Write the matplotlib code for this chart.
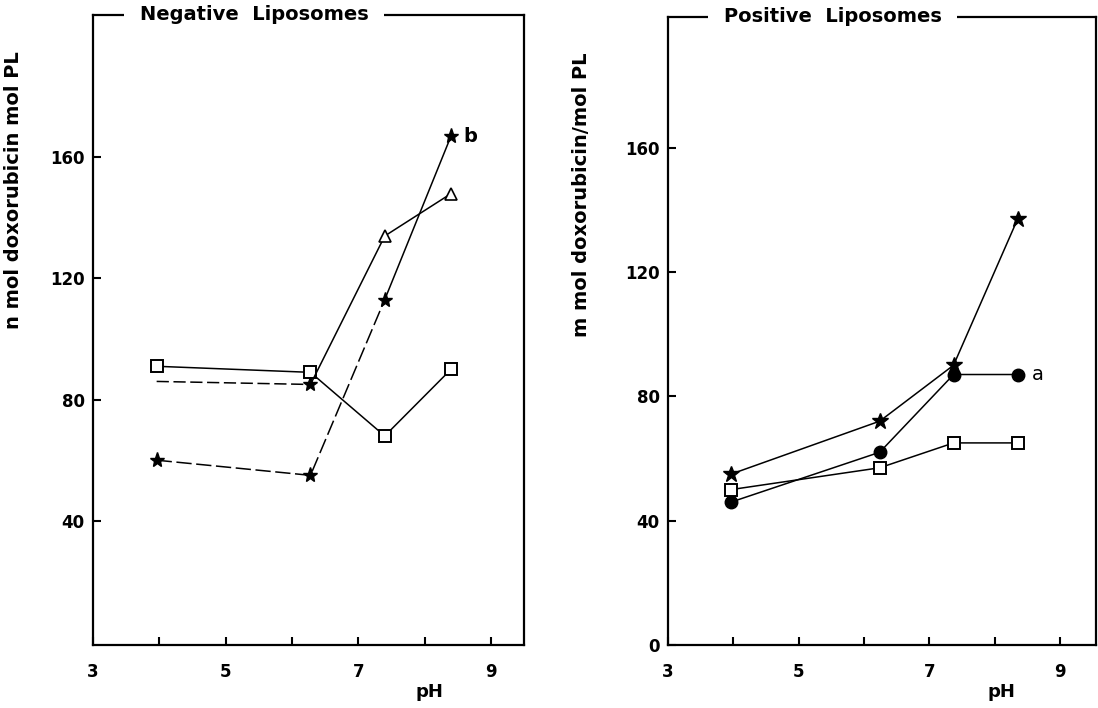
"""
Doxorubicin loading of negative and positive liposomes as a function of pH.
"""

import matplotlib
matplotlib.use("Agg")
import matplotlib.pyplot as plt

# --- data ---
ph_neg = [3.96, 6.28, 7.40, 8.40]
neg_square = [91, 89, 68, 90]
neg_triangle = [86, 85, 134, 148]
neg_star = [60, 55, 113, 167]

ph_pos = [3.97, 6.24, 7.37, 8.35]
pos_star = [55, 72, 90, 137]
pos_circle = [46, 62, 87, 87]
pos_square = [50, 57, 65, 65]

xticks_major = [3, 5, 7, 9]
xticks_minor = [4, 6, 8]
yticks_neg = [40, 80, 120, 160]
yticks_pos = [0, 40, 80, 120, 160]

plt.rcParams["font.family"] = ["DejaVu Sans"]
plt.rcParams["font.weight"] = "bold"

fig = plt.figure(figsize=(10.98, 7.08), dpi=100)
ax1 = fig.add_axes([0.0847, 0.089, 0.3925, 0.89])
ax2 = fig.add_axes([0.6084, 0.089, 0.3898, 0.887])


def style_axis(ax, yticks, ylim, xlim, title, title_x, ylabel, label_xy):
    ax.set_xlim(*xlim)
    ax.set_ylim(*ylim)
    ax.set_xticks(xticks_major)
    ax.set_xticklabels([str(v) for v in xticks_major])
    ax.set_xticks(xticks_minor, minor=True)
    ax.set_yticks(yticks)
    ax.set_yticklabels([str(v) for v in yticks])
    ax.tick_params(axis="both", which="both", direction="in", length=6, width=1.5,
                   labelsize=12)
    ax.tick_params(axis="x", which="major", pad=13)
    ax.tick_params(axis="y", pad=6)
    for lab in ax.get_xticklabels() + ax.get_yticklabels():
        lab.set_fontweight("bold")
    for sp in ax.spines.values():
        sp.set_linewidth(1.6)
    ax.text(title_x, 1.0, title, transform=ax.transAxes, ha="center", va="center",
            fontsize=14, fontweight="bold",
            bbox=dict(boxstyle="square,pad=0.8", fc="white", ec="none"))
    ax.set_ylabel(ylabel, fontsize=14, fontweight="bold")
    ax.yaxis.set_label_coords(*label_xy)
    ax.text(0.78, -0.075, "pH", transform=ax.transAxes, ha="center", va="center",
            fontsize=13, fontweight="bold")


line_kw = dict(color="black", lw=1.1)

# negative liposomes
ax1.plot(ph_neg, neg_square, marker="s", ms=8, mfc="white", mec="black", mew=1.4, **line_kw)
ax1.plot(ph_neg[:2], neg_triangle[:2], ls=(0, (8, 3)), **line_kw)
ax1.plot(ph_neg[1:], neg_triangle[1:], **line_kw)
ax1.plot(ph_neg[2:], neg_triangle[2:], ls="none", marker="^", ms=8, mfc="white",
         mec="black", mew=1.2)
ax1.plot(ph_neg[1:2], neg_triangle[1:2], ls="none", marker="*", ms=10, color="black")
ax1.plot(ph_neg[:3], neg_star[:3], ls=(0, (10, 3)), **line_kw)
ax1.plot(ph_neg[2:], neg_star[2:], **line_kw)
ax1.plot(ph_neg, neg_star, ls="none", marker="*", ms=11, color="black")
ax1.annotate("b", (ph_neg[-1], neg_star[-1]), xytext=(9, 0), textcoords="offset points",
             ha="left", va="center", fontsize=14, fontweight="bold")

# positive liposomes
ax2.plot(ph_pos, pos_star, marker="*", ms=12, color="black", lw=1.1)
ax2.plot(ph_pos, pos_circle, marker="o", ms=9, color="black", lw=1.1)
ax2.plot(ph_pos, pos_square, marker="s", ms=8, mfc="white", mec="black", mew=1.4, **line_kw)
ax2.annotate("a", (ph_pos[-1], pos_circle[-1]), xytext=(10, 0), textcoords="offset points",
             ha="left", va="center", fontsize=14, fontweight="normal")

style_axis(ax1, yticks_neg, (-1, 207), (3, 9.5), "Negative  Liposomes", 0.374,
           "n mol doxorubicin mol PL", (-0.162, 0.722))
style_axis(ax2, yticks_pos, (0, 202), (3, 9.55), "Positive  Liposomes", 0.385,
           "m mol doxorubicin/mol PL", (-0.18, 0.717))

fig.savefig("out.png", dpi=100)
